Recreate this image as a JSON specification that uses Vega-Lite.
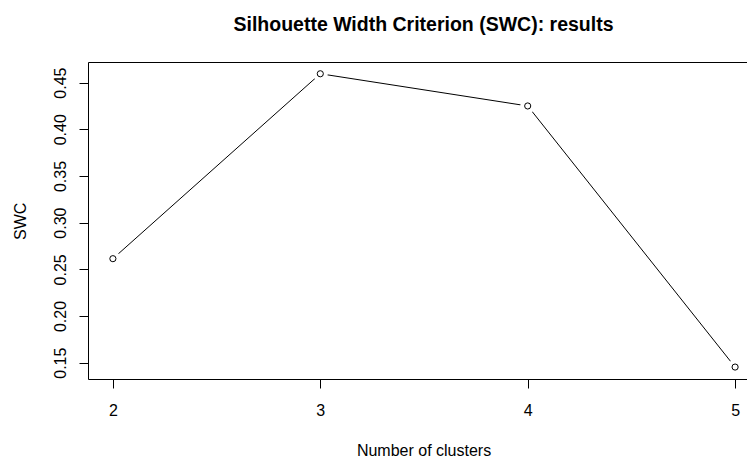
{
  "$schema": "https://vega.github.io/schema/vega-lite/v6.json",
  "autosize": {"type": "none"},
  "padding": {"left": 88, "top": 62, "right": 0, "bottom": 78},
  "width": 659,
  "height": 317,
  "background": "white",
  "config": {
    "view": {"stroke": null},
    "font": "Liberation Sans",
    "axis": {"grid": false, "domainColor": "black", "tickColor": "black", "labelColor": "black", "titleColor": "black", "labelFont": "Liberation Sans", "titleFont": "Liberation Sans", "labelFontSize": 16, "titleFontSize": 16, "titleFontWeight": "normal", "tickSize": 9, "domainWidth": 1, "tickWidth": 1}
  },
  "title": {"text": "Silhouette Width Criterion (SWC): results", "font": "Liberation Sans", "fontSize": 19.5, "fontWeight": "bold", "color": "black", "anchor": "middle", "baseline": "alphabetic", "offset": 12, "dx": 6},
  "data": {"values": [
    {"k": 2, "swc": 0.2614},
    {"k": 3, "swc": 0.4595},
    {"k": 4, "swc": 0.4250},
    {"k": 5, "swc": 0.1453}
  ]},
  "layer": [
    {
      "mark": {"type": "line", "color": "black", "strokeWidth": 1},
      "encoding": {
        "x": {"field": "k", "type": "quantitative", "scale": {"domain": [1.88, 5.0574], "nice": false, "zero": false},
          "axis": {"orient": "bottom", "values": [2, 3, 4, 5], "format": "d", "labelBaseline": "alphabetic", "labelPadding": 27, "title": "Number of clusters", "titleX": 335.5, "titleY": 76, "titleAlign": "center", "titleBaseline": "alphabetic", "titleAnchor": null}},
        "y": {"field": "swc", "type": "quantitative", "scale": {"domain": [0.1325, 0.4721], "nice": false, "zero": false},
          "axis": {"values": [0.15, 0.2, 0.25, 0.3, 0.35, 0.4, 0.45], "format": ".2f", "labelAngle": 270, "labelAlign": "center", "labelBaseline": "alphabetic", "labelPadding": 14, "title": "SWC", "titleAngle": 270, "titleX": -63, "titleY": 158.8, "titleAlign": "center", "titleBaseline": "alphabetic", "titleAnchor": null}}
      }
    },
    {
      "mark": {"type": "point", "shape": "circle", "filled": true, "color": "white", "opacity": 1, "size": 227},
      "encoding": {
        "x": {"field": "k", "type": "quantitative", "axis": {"orient": "top", "labels": false, "ticks": false, "domain": true, "title": null}},
        "y": {"field": "swc", "type": "quantitative"}
      }
    },
    {
      "mark": {"type": "point", "shape": "circle", "filled": false, "stroke": "black", "strokeWidth": 1, "opacity": 1, "size": 38},
      "encoding": {
        "x": {"field": "k", "type": "quantitative", "axis": null},
        "y": {"field": "swc", "type": "quantitative"}
      }
    }
  ],
  "resolve": {"axis": {"x": "independent"}}
}
